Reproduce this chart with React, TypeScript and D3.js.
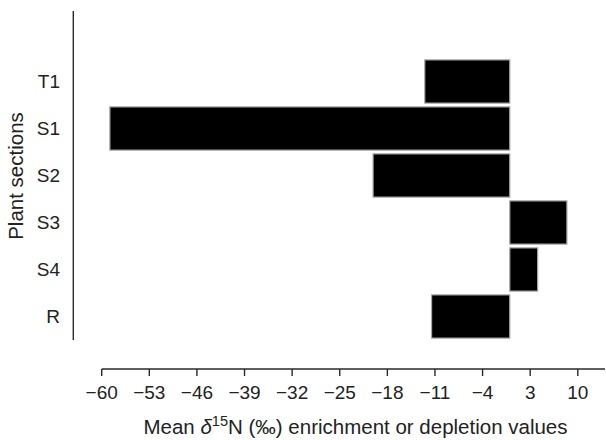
import React from "react";
import * as d3 from "d3";

const categories = ["T1", "S1", "S2", "S3", "S4", "R"];
const values = [-12.5, -58.8, -20.1, 8.4, 4.1, -11.5];
const xTicks = [-60, -53, -46, -39, -32, -25, -18, -11, -4, 3, 10];
const xTitleMain = "Mean ";
const xTitleDelta = "δ";
const xTitleSup = "15";
const xTitleRest = "N (‰) enrichment or depletion values";
const yTitle = "Plant sections";

const W = 606;
const H = 440;
const FONT = "'Liberation Sans', Arial, Helvetica, sans-serif";

export default function App() {
  const x = d3.scaleLinear().domain([-60, 14]).range([101.7, 605]);
  const y = d3
    .scaleBand<string>()
    .domain(["__spacer__", ...categories])
    .range([11, 340])
    .paddingInner(0.08)
    .paddingOuter(0.04);
  const axisY = 369;
  const yAxisX = 73.3;

  return (
    <svg
      width={W}
      height={H}
      style={{ position: "absolute", left: 0, top: 0, display: "block", background: "#fff" }}
      fontFamily={FONT}
    >
      {/* bars */}
      {categories.map((c, i) => {
        const v = values[i];
        const x0 = x(Math.min(0, v));
        const x1 = x(Math.max(0, v));
        return (
          <rect
            key={c}
            x={x0}
            y={y(c)}
            width={x1 - x0}
            height={y.bandwidth()}
            fill="#000"
            stroke="#a8a8a8"
            strokeWidth={1.2}
          />
        );
      })}

      {/* y axis */}
      <line x1={yAxisX} x2={yAxisX} y1={11} y2={340} stroke="#2a2a2a" strokeWidth={1.4} />
      {categories.map((c) => (
        <text
          key={c}
          x={60}
          y={(y(c) as number) + y.bandwidth() / 2 + 6.8}
          textAnchor="end"
          fontSize={19}
          fill="#222"
        >
          {c}
        </text>
      ))}
      <text
        transform={`translate(23, 176) rotate(-90)`}
        textAnchor="middle"
        fontSize={20.5}
        fill="#222"
      >
        {yTitle}
      </text>

      {/* x axis */}
      <line x1={x.range()[0]} x2={x.range()[1]} y1={axisY} y2={axisY} stroke="#2a2a2a" strokeWidth={1.4} />
      {xTicks.map((t) => (
        <g key={t} transform={`translate(${x(t)},0)`}>
          <line y1={axisY} y2={axisY + 7} stroke="#2a2a2a" strokeWidth={1.4} />
          <text y={398.5} textAnchor="middle" fontSize={19} fill="#222">
            {t < 0 ? "\u2212" + Math.abs(t) : String(t)}
          </text>
        </g>
      ))}
      <text x={355.5} y={434} textAnchor="middle" fontSize={20.5} fill="#222">
        <tspan>{xTitleMain}</tspan>
        <tspan fontStyle="italic">{xTitleDelta}</tspan>
        <tspan fontSize={14.5} dy={-8}>{xTitleSup}</tspan>
        <tspan dy={8}>{xTitleRest}</tspan>
      </text>
    </svg>
  );
}
